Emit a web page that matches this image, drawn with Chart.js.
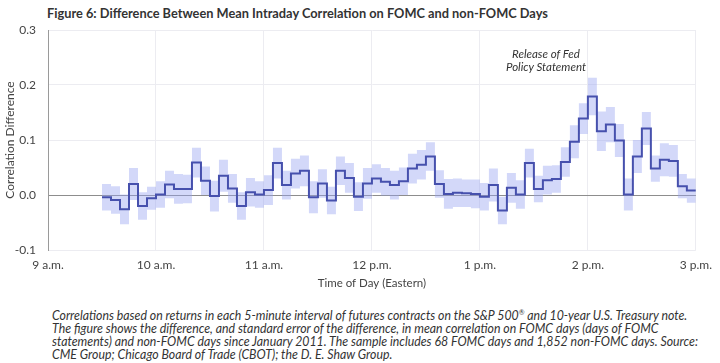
<!DOCTYPE html>
<html>
<head>
<meta charset="utf-8">
<script src="https://cdn.jsdelivr.net/npm/chart.js@4.4.0/dist/chart.umd.min.js"></script>
<style>
  body { margin: 0; background: #fff; width: 720px; height: 363px; overflow: hidden; position: relative; color: #333; }
  #title { position: absolute; left: 47px; top: 5px; font: bold 13.5px Lato, sans-serif; white-space: nowrap; color: #333; transform-origin: 0 0; }
  #wrap { position: absolute; left: 0; top: 0; width: 720px; height: 290px; }
  #note { position: absolute; left: 486px; top: 47px; width: 120px; text-align: center; font: italic 11.5px Lato, sans-serif; line-height: 13px; color: #333; }
  #caption { position: absolute; left: 52px; top: 309px; font: italic 12.5px Lato, sans-serif; line-height: 13px; white-space: nowrap; color: #333; transform-origin: 0 0; }
  sup { font-size: 7px; line-height: 0; }
</style>
</head>
<body>
<div id="title">Figure 6: Difference Between Mean Intraday Correlation on FOMC and non-FOMC Days</div>
<div id="wrap"><canvas id="chart1" width="720" height="290"></canvas></div>
<div id="note">Release of Fed<br>Policy Statement</div>
<div id="caption">Correlations based on returns in each 5-minute interval of futures contracts on the S&amp;P 500<sup>®</sup> and 10-year U.S. Treasury note.<br>The figure shows the difference, and standard error of the difference, in mean correlation on FOMC days (days of FOMC<br>statements) and non-FOMC days since January 2011. The sample includes 68 FOMC days and 1,852 non-FOMC days. Source:<br>CME Group; Chicago Board of Trade (CBOT); the D. E. Shaw Group.</div>
<script>
// hour tick labels, 9 a.m. .. 3 p.m.
var hourLabels = ['9 a.m.', '10 a.m.', '11 a.m.', '12 p.m.', '1 p.m.', '2 p.m.', '3 p.m.'];

// first interval starts at 9:30, minutes after 9 a.m.
var startMinute = 30;
var intervalMinutes = 5;

// difference in mean correlation, one per 5-minute interval (9:30 .. 2:55)
var corrDiff = [
  -0.004, -0.009, -0.026, 0.020, -0.020, -0.006, 0.001, 0.019, 0.011, 0.011,
  0.059, 0.026, -0.002, 0.035, 0.012, -0.020, 0.005, 0.001, 0.009, 0.058,
  0.018, 0.039, 0.044, -0.004, 0.021, -0.010, 0.044, 0.031, -0.003, 0.021,
  0.030, 0.024, 0.018, 0.025, 0.048, 0.055, 0.070, 0.020, 0.002, 0.004,
  0.003, 0.002, -0.003, 0.018, -0.028, 0.013, 0.001, 0.058, 0.011, 0.027,
  0.029, 0.060, 0.097, 0.139, 0.179, 0.116, 0.128, 0.099, 0.001, 0.070,
  0.121, 0.048, 0.064, 0.062, 0.016, 0.008
];

// standard error of the difference
var stdErr = [
  0.024, 0.025, 0.027, 0.029, 0.025, 0.021, 0.024, 0.025, 0.027, 0.026,
  0.027, 0.026, 0.028, 0.029, 0.026, 0.025, 0.026, 0.024, 0.027, 0.028,
  0.026, 0.027, 0.028, 0.029, 0.026, 0.025, 0.026, 0.027, 0.026, 0.028,
  0.026, 0.025, 0.026, 0.025, 0.027, 0.027, 0.026, 0.025, 0.027, 0.026,
  0.025, 0.026, 0.025, 0.030, 0.025, 0.027, 0.026, 0.026, 0.024, 0.026,
  0.025, 0.027, 0.030, 0.028, 0.034, 0.036, 0.032, 0.030, 0.029, 0.030,
  0.030, 0.024, 0.030, 0.029, 0.022, 0.022
];

var lineColor = '#4650ad';
var bandColor = 'rgba(150, 163, 240, 0.42)';
var tickFont = { family: 'Lato, sans-serif', size: 12 };

// squeeze a text block to the width it has in the figure
function fitWidth(id, target) {
  var el = document.getElementById(id);
  el.style.transform = 'scaleX(' + (target / el.offsetWidth) + ')';
}
fitWidth('title', 501);
fitWidth('caption', 646);

// each value holds for its whole interval, so add the closing edge at 3 p.m.
function stepPoints(vals) {
  var pts = vals.map(function (v, i) { return { x: startMinute + i * intervalMinutes, y: v }; });
  pts.push({ x: startMinute + vals.length * intervalMinutes, y: vals[vals.length - 1] });
  return pts;
}

var upper = corrDiff.map(function (v, i) { return v + stdErr[i]; });
var lower = corrDiff.map(function (v, i) { return v - stdErr[i]; });

var config = {
  type: 'line',
  data: {
    datasets: [
      {
        label: 'Difference',
        data: stepPoints(corrDiff),
        borderColor: lineColor,
        borderWidth: 2,
        stepped: true,
        pointRadius: 0,
        fill: false,
        order: 0
      },
      {
        label: 'Upper',
        data: stepPoints(upper),
        borderWidth: 0,
        borderColor: 'rgba(0,0,0,0)',
        backgroundColor: bandColor,
        stepped: true,
        pointRadius: 0,
        fill: '+1',
        order: 1
      },
      {
        label: 'Lower',
        data: stepPoints(lower),
        borderWidth: 0,
        borderColor: 'rgba(0,0,0,0)',
        stepped: true,
        pointRadius: 0,
        fill: false,
        order: 2
      }
    ]
  },
  options: {
    responsive: false,
    animation: false,
    layout: { padding: { left: 0, right: 17, top: 30, bottom: 0 } },
    plugins: {
      legend: { display: false },
      tooltip: { enabled: false }
    },
    scales: {
      x: {
        type: 'linear',
        min: 0,
        max: 360,
        afterFit: function (s) { s.height = 40; },
        afterBuildTicks: function (s) {
          s.ticks = hourLabels.map(function (l, i) { return { value: i * 60 }; });
        },
        ticks: {
          padding: 8,
          color: '#444',
          font: tickFont,
          maxRotation: 0,
          autoSkip: false,
          callback: function (v) { return hourLabels[Math.round(v / 60)]; }
        },
        grid: { color: '#ececf1', drawTicks: false },
        border: { display: false },
        title: {
          display: true,
          text: 'Time of Day (Eastern)',
          color: '#444',
          font: { family: 'Lato, sans-serif', size: 11.5 },
          padding: { top: 0, bottom: 0 }
        }
      },
      y: {
        min: -0.1,
        max: 0.3,
        afterFit: function (s) { s.width = 48; },
        ticks: {
          stepSize: 0.1,
          padding: 12,
          color: '#444',
          font: tickFont,
          callback: function (v) { return v.toFixed(1); }
        },
        grid: {
          drawTicks: false,
          color: function (c) { return Math.abs(c.tick.value) < 1e-9 ? '#8d8d8d' : '#ececf1'; }
        },
        border: { display: true, color: '#9a9a9a' },
        title: {
          display: true,
          text: 'Correlation Difference',
          color: '#444',
          font: { family: 'Lato, sans-serif', size: 12 },
          padding: { top: 3, bottom: 0 }
        }
      }
    }
  }
};

var ctx = document.getElementById('chart1').getContext('2d');
window.chart1 = new Chart(ctx, config);
</script>
</body>
</html>
